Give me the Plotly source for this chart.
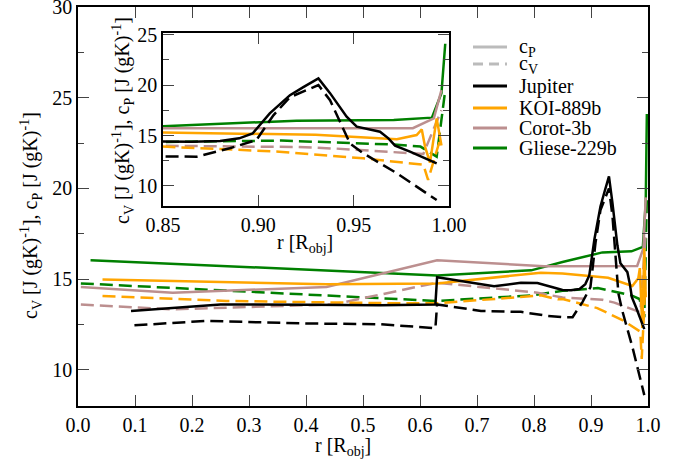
import plotly.graph_objects as go

# ---------------- data ----------------
jup_cp_r = [0.093, 0.25, 0.40, 0.53, 0.627, 0.630, 0.68, 0.73, 0.777, 0.806, 0.836, 0.85, 0.865, 0.88, 0.89,
            0.897, 0.906, 0.9166, 0.9236, 0.9315, 0.9376, 0.9463, 0.9516, 0.9638, 0.9682, 0.9717, 0.9795, 0.9935]
jup_cp_v = [13.24, 13.6, 13.58, 13.55, 13.6, 15.1, 14.85, 14.6, 14.8, 14.78, 14.52, 14.4, 14.38, 14.45, 14.72,
            15.2, 17.2, 19.0, 19.8, 20.66, 19.2, 16.86, 15.87, 15.38, 14.72, 14.0, 13.4, 12.24]
jup_cv_r = [0.099, 0.225, 0.40, 0.53, 0.627, 0.630, 0.707, 0.777, 0.824, 0.85, 0.8677, 0.885, 0.899,
            0.9079, 0.9166, 0.9315, 0.9376, 0.9481, 0.955, 0.9726, 0.9935]
jup_cv_v = [12.45, 12.69, 12.55, 12.51, 12.29, 13.6, 13.24, 13.19, 12.97, 12.9, 12.9, 13.73, 14.55,
            17.0, 18.8, 20.0, 18.5, 14.2, 13.24, 11.26, 8.6]

koi_cp_r = [0.043, 0.436, 0.630, 0.812, 0.85, 0.930, 0.9726, 0.983, 0.9857, 0.9874, 0.990, 0.9935, 0.996]
koi_cp_v = [14.98, 14.71, 14.76, 15.35, 15.3, 15.07, 14.62, 15.05, 15.6, 13.9, 12.3, 16.7, 14.0]
koi_cv_r = [0.043, 0.26, 0.566, 0.63, 0.812, 0.842, 0.85, 0.911, 0.955, 0.981, 0.9865, 0.989, 0.9953]
koi_cv_v = [14.07, 13.79, 13.66, 13.66, 14.1, 13.88, 13.9, 13.4, 12.74, 12.18, 12.1, 10.6, 14.6]

cor_cp_r = [0.005, 0.166, 0.436, 0.566, 0.630, 0.818, 0.85, 0.981, 0.992, 0.996]
cor_cp_v = [14.56, 14.25, 14.56, 15.53, 16.04, 15.71, 15.72, 15.72, 16.7, 19.5]
cor_cv_r = [0.005, 0.166, 0.448, 0.566, 0.630, 0.806, 0.85, 0.92, 0.941, 0.9865, 0.996]
cor_cv_v = [13.6, 13.33, 13.6, 14.38, 14.8, 14.25, 13.98, 13.86, 13.7, 13.17, 17.5]

gli_cp_r = [0.022, 0.53, 0.63, 0.795, 0.85, 0.92, 0.971, 0.991, 0.996, 0.998]
gli_cp_v = [16.04, 15.31, 15.2, 15.48, 15.94, 16.47, 16.53, 16.77, 19.2, 24.1]
gli_cv_r = [0.005, 0.53, 0.63, 0.795, 0.85, 0.912, 0.955, 0.971, 0.985, 0.9935, 0.998]
gli_cv_v = [14.76, 13.94, 13.79, 14.1, 14.35, 14.5, 14.2, 14.1, 13.9, 12.9, 19.5]

planet_names = ["Gliese-229b", "Corot-3b", "KOI-889b", "Jupiter"]
planet_colors = ["#008000", "#BC8F8F", "#FFA500", "#000000"]
cp_r = [gli_cp_r, cor_cp_r, koi_cp_r, jup_cp_r]
cp_v = [gli_cp_v, cor_cp_v, koi_cp_v, jup_cp_v]
cv_r = [gli_cv_r, cor_cv_r, koi_cv_r, jup_cv_r]
cv_v = [gli_cv_v, cor_cv_v, koi_cv_v, jup_cv_v]

legend_labels = ["c<sub>P</sub>", "c<sub>V</sub>", "Jupiter", "KOI-889b", "Corot-3b", "Gliese-229b"]
legend_colors = ["#BBBBBB", "#BBBBBB", "#000000", "#FFA500", "#BC8F8F", "#008000"]
legend_dash = ["solid", "dash", "solid", "solid", "solid", "solid"]

main_xticks = [0.0, 0.1, 0.2, 0.3, 0.4, 0.5, 0.6, 0.7, 0.8, 0.9, 1.0]
inset_xticks = [0.85, 0.90, 0.95, 1.00]

# ---------------- figure ----------------
FONT = "Liberation Serif, Times New Roman, Times, serif"
DASH = "13px,6px"
W, H = 686, 466
ML, MR, MT, MB = 78, 38, 7, 60
PW, PH = W - ML - MR, H - MT - MB


def px2paper(px, py):
    return (px - ML) / PW, (H - MB - py) / PH


fig = go.Figure()
for axes in [("x", "y"), ("x2", "y2")]:
    for name, col, r1, v1, r2, v2 in zip(planet_names, planet_colors, cp_r, cp_v, cv_r, cv_v):
        fig.add_trace(go.Scatter(x=r2, y=v2, mode="lines", name=name + " cv",
                                 line=dict(color=col, width=2.5, dash=DASH),
                                 xaxis=axes[0], yaxis=axes[1], showlegend=False))
        fig.add_trace(go.Scatter(x=r1, y=v1, mode="lines", name=name,
                                 line=dict(color=col, width=2.5),
                                 xaxis=axes[0], yaxis=axes[1], showlegend=False))

tickfont = dict(family=FONT, size=20, color="black")
common = dict(showline=True, linecolor="black", linewidth=1.5, mirror="ticks",
              ticks="inside", tickcolor="#444", tickwidth=1, ticklen=11, automargin=False,
              ticklabeloverflow="allow",
              showgrid=False, zeroline=False, tickfont=tickfont)

fig.update_layout(
    template="none",
    width=W, height=H,
    margin=dict(l=ML, r=MR, t=MT, b=MB, pad=0),
    paper_bgcolor="white", plot_bgcolor="white",
    showlegend=False,
    xaxis=dict(domain=[0, 1], range=[0, 1], tickvals=main_xticks, tickformat=".1f", anchor="y", **common),
    yaxis=dict(domain=[0, 1], range=[8, 30], dtick=5, anchor="x",
               minor=dict(dtick=2.5, ticks="inside", ticklen=6, tickcolor="#444"), **common),
    xaxis2=dict(domain=[0.149, 0.651], range=[0.85, 1.0], tickvals=inset_xticks, tickformat=".2f",
                anchor="y2", **common),
    yaxis2=dict(domain=[0.501, 0.935], range=[8, 25.17], dtick=5, anchor="x2",
                minor=dict(dtick=2.5, ticks="inside", ticklen=6, tickcolor="#444"), **common),
)

ylab = "c<sub>V</sub> [J (gK)<sup>-1</sup>], c<sub>P</sub> [J (gK)<sup>-1</sup>]"
xlab = "r [R<sub>obj</sub>]"
annos = []
for (px, py, txt, ang) in [(31, 216, ylab, -90), (343, 446, xlab, 0), (123, 121, ylab, -90), (305, 243, xlab, 0)]:
    x, y = px2paper(px, py)
    annos.append(dict(x=x, y=y, xref="paper", yref="paper", text=txt, textangle=ang, showarrow=False,
                      xanchor="center", yanchor="middle", font=dict(family=FONT, size=20, color="black")))

shapes = []
leg_y = [47, 64, 86, 108, 128, 148]
for lab, col, dsh, ly in zip(legend_labels, legend_colors, legend_dash, leg_y):
    x0, y0 = px2paper(473, ly)
    x1, _ = px2paper(507, ly)
    shapes.append(dict(type="line", xref="paper", yref="paper", x0=x0, x1=x1, y0=y0, y1=y0,
                       line=dict(color=col, width=3, dash=("10px,6px" if dsh == "dash" else "solid"))))
    tx, _ = px2paper(517, ly)
    annos.append(dict(x=tx, y=y0, xref="paper", yref="paper", text=lab, showarrow=False,
                      xanchor="left", yanchor="middle", font=dict(family=FONT, size=20, color="black")))

fig.update_layout(annotations=annos, shapes=shapes)
fig.write_html("out.html", config={"displayModeBar": False},
               post_script="document.body.style.margin='0px';")
